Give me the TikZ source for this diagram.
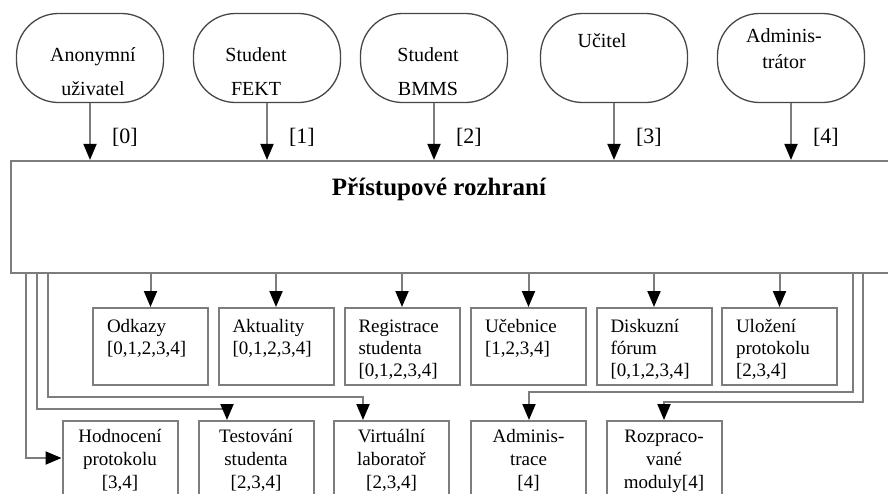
\documentclass[tikz,border=0pt]{standalone}
\usepackage{fontspec}
\setmainfont{Liberation Serif}
\usetikzlibrary{arrows.meta,positioning}
\definecolor{wire}{RGB}{125,125,125}
\definecolor{rim}{RGB}{70,70,70}
\tikzset{
  actor/.style={rectangle, rounded corners=42pt, draw=rim, line width=1.3pt,
                minimum width=147pt, minimum height=89pt},
  actt/.style={text width=140pt, align=center, anchor=base, inner sep=0pt,
               font=\fontsize{20}{34}\selectfont},
  mainbox/.style={rectangle, draw=wire, line width=2.2pt, minimum width=890pt,
                  minimum height=112pt},
  ttl/.style={font=\fontsize{25}{28}\selectfont\bfseries, inner sep=0pt,
              anchor=base},
  cell/.style={rectangle, draw=wire, line width=2pt, anchor=north,
               text width=87pt, inner xsep=14pt, inner ysep=0pt,
               text height=24pt, text depth=53pt, align=left,
               font=\fontsize{19}{22}\selectfont},
  cellc/.style={cell, align=center, text height=21pt, text depth=70pt,
                font=\fontsize{19}{23}\selectfont},
  arr/.style={-{Triangle[length=16pt,width=13pt,color=black,fill=black]},
              draw=wire, line width=2pt},
  tag/.style={anchor=west, pos=0.6, xshift=21pt, inner sep=0pt,
              font=\fontsize{22}{22}\selectfont},
}

\begin{document}
\begin{tikzpicture}[x=1pt,y=-1pt]
\useasboundingbox (0,0) rectangle (888,493);
\clip (0,0) rectangle (888,493);

% ===== users =====
\node[actor] (anon) at (90,58) {};
\node[actor] (fekt) at (267,58) {};
\node[actor] (bmms) at (434,58) {};
\node[actor] (ucit) at (614,58) {};
\node[actor] (admr) at (791,58) {};

\node[actt] (anon-t) at (93,61) {Anonymní\\uživatel};
\node[actt] (fekt-t) at (256,61) {Student\\FEKT};
\node[actt] (bmms-t) at (428,61) {Student\\BMMS};
\node[actt] (ucit-t) at (602,47) {Učitel};
\node[actt, font=\fontsize{20}{26}\selectfont] (admr-t) at (784,42)
  {Adminis-\\trátor};

% ===== access layer =====
\node[mainbox] (main) at (456,217) {};
\node[ttl] (title) at (439,195) {Přístupové rozhraní};

\draw[arr] (anon) -- node[tag] (lab0) {[0]} (anon |- main.north);
\draw[arr] (fekt) -- node[tag] (lab1) {[1]} (fekt |- main.north);
\draw[arr] (bmms) -- node[tag] (lab2) {[2]} (bmms |- main.north);
\draw[arr] (ucit) -- node[tag] (lab3) {[3]} (ucit |- main.north);
\draw[arr] (admr) -- node[tag] (lab4) {[4]} (admr |- main.north);

% ===== modules, first row =====
\node[cell] (odk) at (150.5,307) {Odkazy\\{[0,1,2,3,4]}};
\node[cell] (akt) at (276,307) {Aktuality\\{[0,1,2,3,4]}};
\node[cell] (reg) at (402,307) {Registrace\\studenta\\{[0,1,2,3,4]}};
\node[cell] (ucb) at (528.5,307) {Učebnice\\{[1,2,3,4]}};
\node[cell] (dsk) at (654,307) {Diskuzní\\fórum\\{[0,1,2,3,4]}};
\node[cell] (ulz) at (779.5,307) {Uložení\\protokolu\\{[2,3,4]}};

\foreach \n in {odk,akt,reg,ucb,dsk,ulz}
  \draw[arr] (main.south -| \n) -- (\n);

% ===== modules, second row =====
\node[cellc] (hod) at (120,420) {Hodnocení\\protokolu\\{[3,4]}};
\node[cellc] (tst) at (256,420) {Testování\\studenta\\{[2,3,4]}};
\node[cellc] (vir) at (391.5,420) {Virtuální\\laboratoř\\{[2,3,4]}};
\node[cellc] (adm) at (528.5,420) {Adminis-\\trace\\{[4]}};
\node[cellc] (roz) at (664,420) {Rozpraco-\\vané\\moduly[4]};

% bus lines
\coordinate (busA) at (26,273);
\coordinate (busB) at (37,273);
\coordinate (busC) at (48,273);
\coordinate (busD) at (853,273);
\coordinate (busE) at (863,273);
\coordinate (hodIn) at (26,458);
\coordinate (tstIn) at (227,409);
\coordinate (virIn) at (363,397);
\coordinate (admIn) at (529,392);
\coordinate (rozIn) at (664,402);

\draw[arr] (busA) -- (hodIn) -- (hodIn -| hod.west);
\draw[arr] (busB) |- (tstIn) -- (tstIn |- tst.north);
\draw[arr] (busC) |- (virIn) -- (virIn |- vir.north);
\draw[arr] (busD) |- (admIn) -- (admIn |- adm.north);
\draw[arr] (busE) |- (rozIn) -- (rozIn |- roz.north);

\end{tikzpicture}
\end{document}
